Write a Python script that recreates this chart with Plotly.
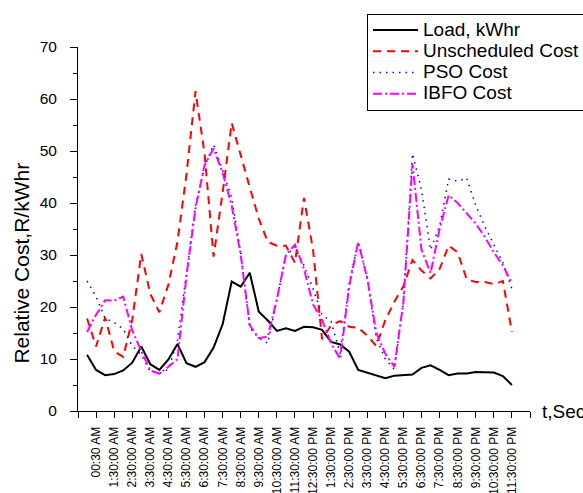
import plotly.graph_objects as go

# half-hour slots starting at 00:00 AM (slot index)
slots = list(range(48))

load_kwhr = [10.8, 7.9, 6.9, 7.1, 7.8, 9.3, 12.4, 9.0, 7.9, 9.9,
             12.9, 9.2, 8.5, 9.4, 12.2, 16.7, 24.9, 23.9, 26.6, 19.1,
             17.4, 15.4, 15.9, 15.4, 16.2, 16.1, 15.6, 13.3, 12.8, 11.4,
             7.9, 7.4, 6.8, 6.3, 6.8, 6.9, 7.0, 8.3, 8.8, 7.9,
             6.9, 7.2, 7.2, 7.5, 7.4, 7.4, 6.7, 5.0]

unscheduled_cost = [17.8, 12.4, 18.0, 11.5, 10.4, 17.5, 30.2, 22.5, 19.0, 24.3,
                    32.5, 45.5, 61.5, 49.5, 29.7, 42.0, 55.4, 49.0, 43.0, 37.0,
                    32.5, 31.8, 31.8, 28.5, 41.0, 31.0, 13.8, 16.5, 17.3, 16.2,
                    16.0, 14.5, 12.5, 17.5, 21.0, 24.0, 29.0, 27.0, 25.5, 27.3,
                    31.8, 30.5, 25.3, 24.8, 24.8, 24.4, 25.0, 15.2]

pso_cost = [25.0, 22.0, 17.8, 17.0, 15.8, 12.5, 10.8, 7.6, 7.2, 8.0,
            13.5, 27.0, 39.5, 47.0, 51.2, 46.3, 41.0, 30.5, 16.0, 14.0,
            13.0, 21.5, 30.0, 31.5, 28.0, 23.5, 18.5, 17.2, 11.0, 24.5,
            32.5, 25.5, 14.0, 10.0, 8.0, 21.0, 49.5, 42.5, 31.0, 35.5,
            44.6, 44.2, 44.8, 39.5, 35.5, 32.0, 28.5, 23.5]

ibfo_cost = [15.2, 18.5, 21.3, 21.2, 22.0, 15.5, 11.5, 7.8, 7.2, 8.5,
             10.0, 26.0, 39.0, 47.3, 50.5, 45.8, 39.5, 30.0, 16.5, 14.0,
             14.3, 21.5, 30.0, 32.0, 27.3, 20.5, 17.5, 13.0, 10.0, 24.0,
             32.5, 25.5, 15.0, 11.0, 8.5, 21.0, 47.5, 31.0, 26.5, 35.0,
             41.5, 40.0, 38.0, 36.0, 33.5, 30.5, 28.0, 24.5]

tick_slots = [-1, 1, 3, 5, 7, 9, 11, 13, 15, 17, 19, 21, 23,
              25, 27, 29, 31, 33, 35, 37, 39, 41, 43, 45, 47, 49]
tick_labels = ["", "00:30 AM", "1:30:00 AM", "2:30:00 AM", "3:30:00 AM", "4:30:00 AM",
               "5:30:00 AM", "6:30:00 AM", "7:30:00 AM", "8:30:00 AM", "9:30:00 AM",
               "10:30:00 AM", "11:30:00 AM", "12:30:00 PM", "1:30:00 PM", "2:30:00 PM",
               "3:30:00 PM", "4:30:00 PM", "5:30:00 PM", "6:30:00 PM", "7:30:00 PM",
               "8:30:00 PM", "9:30:00 PM", "10:30:00 PM", "11:30:00 PM", ""]

series_names = ["Load, kWhr", "Unscheduled Cost", "PSO Cost", "IBFO Cost"]

FONT = "Arial, Liberation Sans, sans-serif"

def lg(name):
    return '<span style="font-size:19px">' + name + '</span>'

fig = go.Figure()
fig.add_trace(go.Scatter(x=slots, y=load_kwhr, mode="lines", name=lg(series_names[0]),
                         line=dict(color="black", width=2)))
fig.add_trace(go.Scatter(x=slots, y=unscheduled_cost, mode="lines", name=lg(series_names[1]),
                         line=dict(color="#FF0000", width=2, dash="8px,6px")))
fig.add_trace(go.Scatter(x=slots, y=pso_cost, mode="lines", name=lg(series_names[2]),
                         line=dict(color="#0000FF", width=1.5, dash="1.5px,5px")))
fig.add_trace(go.Scatter(x=slots, y=ibfo_cost, mode="lines", name=lg(series_names[3]),
                         line=dict(color="#FF00FF", width=2, dash="9px,3px,2px,3px")))

fig.update_layout(
    width=583, height=493,
    margin=dict(l=78, r=53, t=47, b=82, pad=0, autoexpand=False),
    paper_bgcolor="white", plot_bgcolor="white",
    font=dict(family=FONT, color="black"),
    showlegend=True,
    legend=dict(x=0.6394, y=1.092, xanchor="left", yanchor="top",
                bordercolor="black", borderwidth=1, bgcolor="white",
                font=dict(size=14.0, family=FONT, color="black"),
                itemwidth=45, tracegroupgap=0),
    xaxis=dict(range=[-1, 49], showline=True, linecolor="black", linewidth=1,
               ticks="outside", ticklen=6, tickwidth=1, tickcolor="black",
               tickmode="array", tickvals=tick_slots, ticktext=tick_labels,
               tickangle=-90, tickfont=dict(size=12, family=FONT),
               showgrid=False, zeroline=False, ticklabelstandoff=4),
    yaxis=dict(range=[0, 70], tick0=0, dtick=10, showline=True, linecolor="black",
               linewidth=1, ticks="outside", ticklen=7, tickwidth=1, tickcolor="black",
               minor=dict(dtick=5, ticks="outside", ticklen=4, tickcolor="black"),
               tickfont=dict(size=15.5, family=FONT), showgrid=False, zeroline=False,
               ticklabelstandoff=10),
    annotations=[
        dict(text="Relative Cost,R/kWhr", xref="paper", yref="paper", x=0, y=0.405,
             xshift=-56, xanchor="center", yanchor="middle", textangle=-90,
             showarrow=False, font=dict(size=21, family=FONT)),
        dict(text="t,Sec", xref="paper", yref="paper", x=1, y=0, xshift=10,
             xanchor="left", yanchor="middle", showarrow=False,
             font=dict(size=19, family=FONT)),
    ],
)

fig.write_html("out.html")
